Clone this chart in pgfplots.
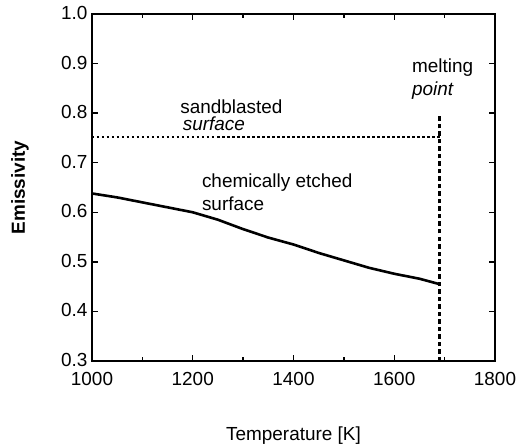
\documentclass[border=0pt]{standalone}
\usepackage{fontspec}
\setmainfont{Liberation Sans}
\usepackage{pgfplots}
\pgfplotsset{compat=1.18}
\newcommand\fs{\fontsize{19}{22}\selectfont}
\begin{document}
\begin{tikzpicture}
\useasboundingbox (-92bp,-85bp) rectangle (426bp,361bp);
\begin{axis}[
 scale only axis, width=403bp, height=347bp,
 xmin=1000, xmax=1800, ymin=0.3, ymax=1.0,
 xtick={1000,1200,1400,1600,1800},
 minor xtick={1100,1300,1500,1700},
 ytick={0.3,0.4,0.5,0.6,0.7,0.8,0.9,1.0},
 major tick length=6bp, minor tick length=4bp,
 every tick/.style={black, line width=1.4bp},
 axis line style={line width=1.8bp},
 /pgf/number format/assume math mode=true,
 ticklabel style={font=\fs},
 xticklabel style={yshift=-8bp, /pgf/number format/1000 sep={}},
 yticklabel style={xshift=-1bp, yshift=1bp, /pgf/number format/.cd, fixed, fixed zerofill, precision=1},
 xlabel={Temperature [K]},
 ylabel={\bfseries Emissivity},
 label style={font=\fs},
 xlabel style={at={(axis description cs:0.5,-0.216)}, anchor=center},
 ylabel style={at={(axis description cs:-0.179,0.5)}, anchor=center},
]
% sandblasted surface
\addplot[black, line width=1.8bp, dash pattern=on 2.5bp off 2.5bp] coordinates {
 (1000,0.752) (1690,0.752)};
% chemically etched surface
\addplot[black, line width=2.6bp] coordinates {
 (1000,0.638) (1050,0.630) (1100,0.620) (1150,0.610) (1200,0.600)
 (1250,0.585) (1300,0.566) (1350,0.549) (1400,0.535) (1450,0.518)
 (1500,0.503) (1550,0.488) (1600,0.476) (1650,0.466) (1690,0.455)};
% melting point
\addplot[black, line width=2.3bp, dash pattern=on 4.5bp off 3bp] coordinates {
 (1690,0.3) (1690,0.797)};
\node[font=\fs, anchor=base west, inner sep=0pt] at (axis cs:1175,0.800) {sandblasted};
\node[font=\fs, anchor=base west, inner sep=0pt] at (axis cs:1180,0.764) {\itshape surface};
\node[font=\fs, anchor=base west, inner sep=0pt] at (axis cs:1218,0.649) {chemically etched};
\node[font=\fs, anchor=base west, inner sep=0pt] at (axis cs:1218,0.604) {surface};
\node[font=\fs, anchor=base west, inner sep=0pt] at (axis cs:1635,0.883) {melting};
\node[font=\fs, anchor=base west, inner sep=0pt] at (axis cs:1635,0.835) {\itshape point};
\end{axis}
\end{tikzpicture}
\end{document}
